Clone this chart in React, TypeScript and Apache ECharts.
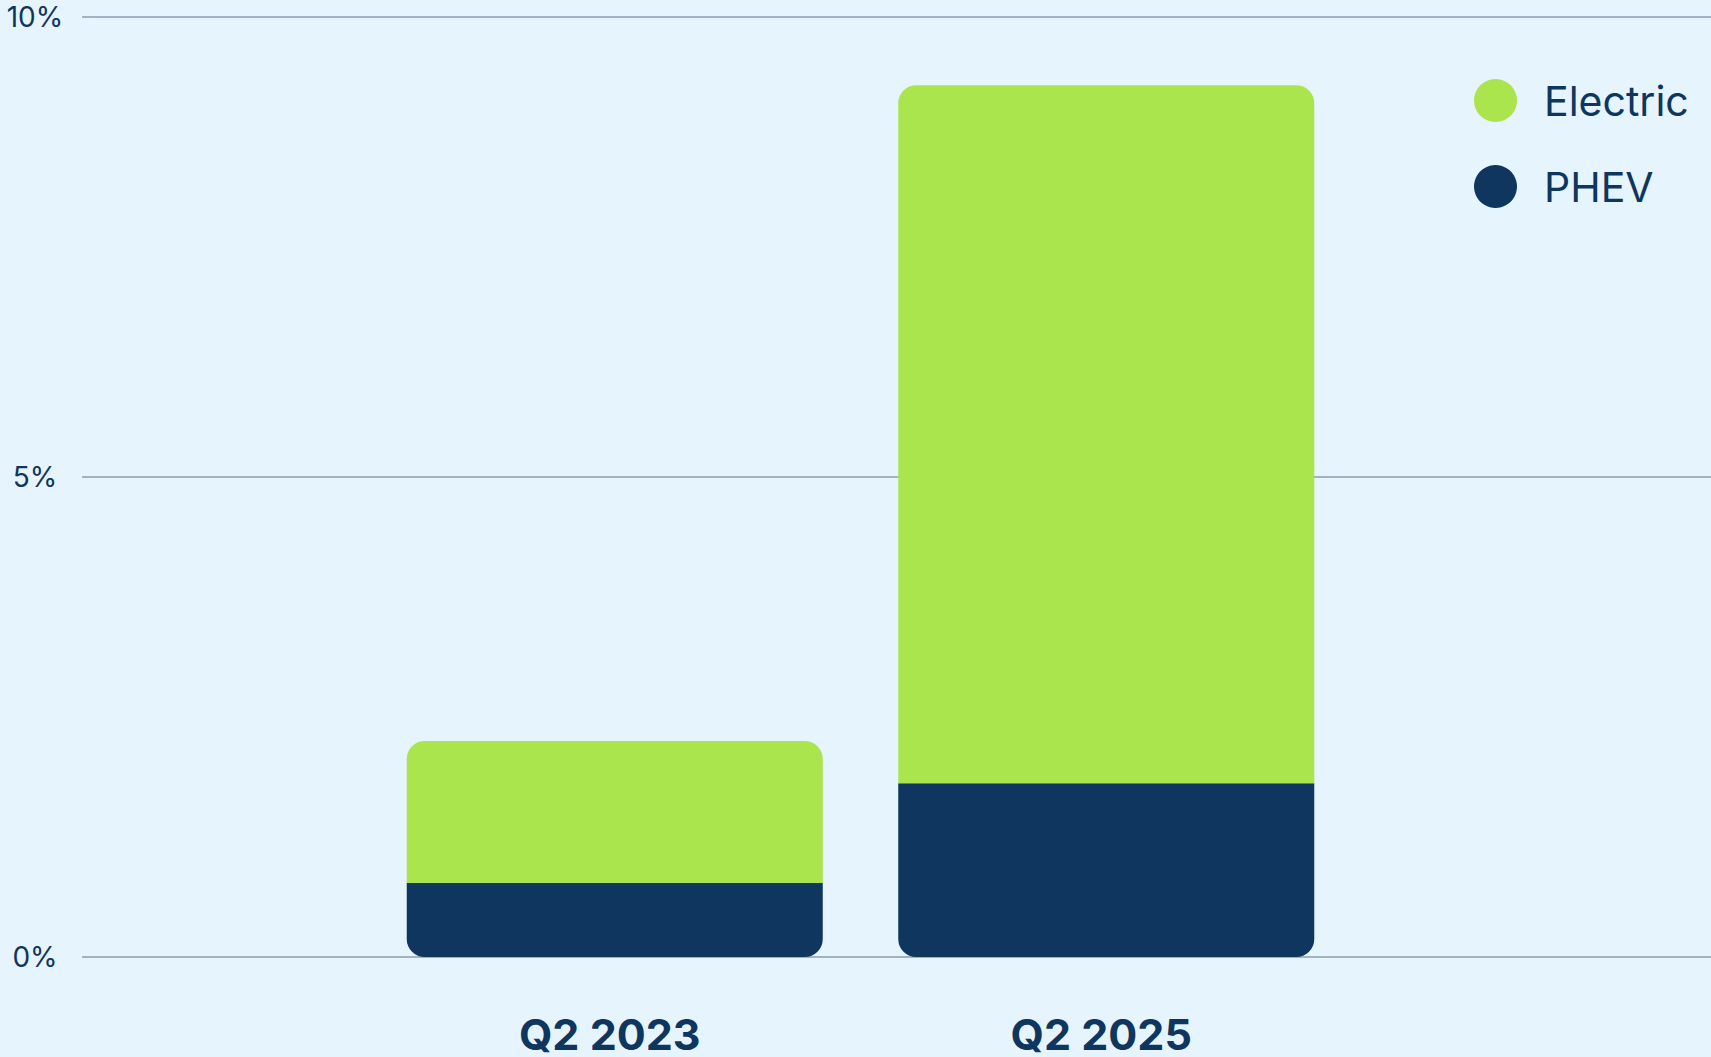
import React, { useEffect, useRef } from "react";
import * as echarts from "echarts";

const categories = ["Q2 2023", "Q2 2025"];
const phevValues = [0.77, 1.81];
const electricValues = [1.48, 7.27];
const yTickLabels: Record<string, string> = { "0": "0%", "5": "5%" };
const yMaxLabel = "10%";

const NAVY = "#0E365E";
const GREEN = "#AAE54D";
const BG = "#E6F4FD";
const GRID = "#8C9DAF";
const FONT = "Inter, 'Noto Sans', sans-serif";
const Y_MAX = 9.79;

export default function App() {
  const ref = useRef<HTMLDivElement>(null);
  useEffect(() => {
    document.body.style.margin = "0";
    document.body.style.background = BG;
    const chart = echarts.init(ref.current!, undefined, { renderer: "svg" });
    chart.setOption({
      animation: false,
      backgroundColor: BG,
      textStyle: { fontFamily: FONT },
      legend: {
        data: ["Electric", "PHEV"],
        orient: "vertical",
        left: 1469,
        top: 74,
        icon: "circle",
        itemWidth: 43,
        itemHeight: 43,
        itemGap: 43,
        textStyle: {
          color: NAVY,
          fontSize: 41,
          fontFamily: FONT,
          padding: [0, 0, 0, 22],
        },
      },
      grid: [
        { left: 82, right: 0, top: 17, bottom: 100 },
        { left: 369, right: 359, top: 17, bottom: 100 },
      ],
      xAxis: [
        { type: "category", gridIndex: 0, data: categories, show: false },
        {
          type: "category",
          gridIndex: 1,
          data: categories,
          axisLine: { show: false },
          axisTick: { show: false },
          axisLabel: {
            color: NAVY,
            fontSize: 43,
            fontWeight: "bold",
            fontFamily: FONT,
            margin: 55,
            padding: [0, 10, 0, 0],
          },
        },
      ],
      yAxis: [
        {
          type: "value",
          gridIndex: 0,
          min: 0,
          max: Y_MAX,
          interval: 5,
          axisLine: { show: false },
          axisTick: { show: false },
          splitLine: { lineStyle: { color: GRID, width: 1.5 } },
          axisLabel: {
            color: NAVY,
            fontSize: 28,
            fontFamily: FONT,
            align: "center",
            margin: 47,
            formatter: (v: number) =>
              v > 9 ? yMaxLabel : yTickLabels[String(Math.round(v))] ?? "",
          },
        },
        {
          type: "value",
          gridIndex: 1,
          min: 0,
          max: Y_MAX,
          interval: 5,
          show: false,
          splitLine: { show: false },
        },
      ],
      series: [
        {
          name: "PHEV",
          type: "bar",
          stack: "total",
          xAxisIndex: 1,
          yAxisIndex: 1,
          barWidth: 416,
          data: phevValues,
          itemStyle: { color: NAVY, borderRadius: [0, 0, 18, 18] },
        },
        {
          name: "Electric",
          type: "bar",
          stack: "total",
          xAxisIndex: 1,
          yAxisIndex: 1,
          barWidth: 416,
          data: electricValues,
          itemStyle: { color: GREEN, borderRadius: [18, 18, 0, 0] },
        },
      ],
    });
    return () => chart.dispose();
  }, []);
  return (
    <div
      ref={ref}
      style={{ position: "fixed", left: 0, top: 0, width: 1711, height: 1057 }}
    />
  );
}
